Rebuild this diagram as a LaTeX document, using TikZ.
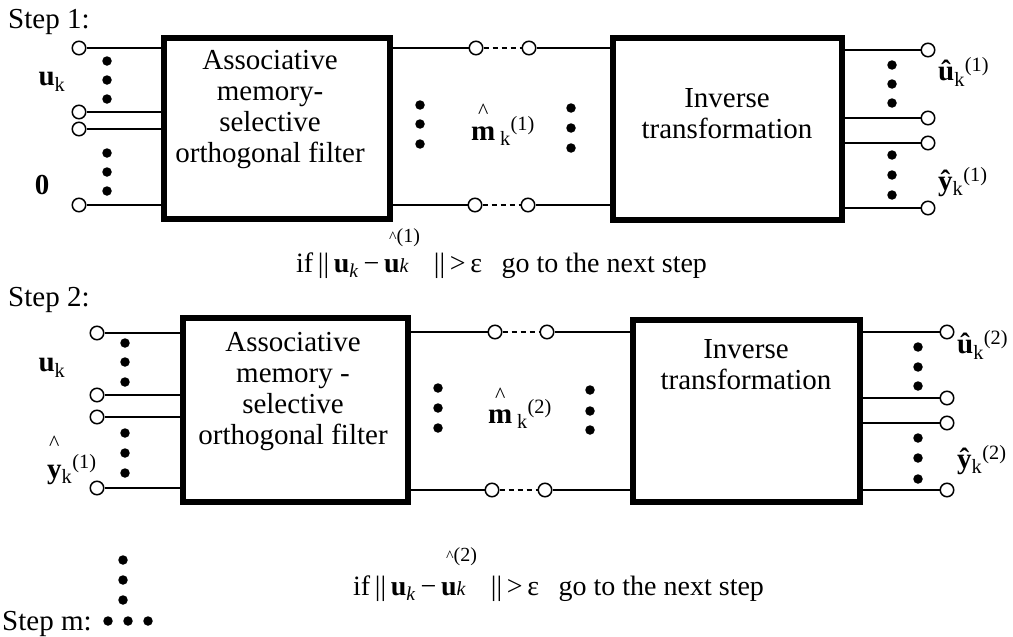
\documentclass[tikz,border=0pt]{standalone}
\usepackage{fontspec}
\setmainfont{Liberation Serif}
% caret set above the next letter: #1 shift right, #2 raise
\newcommand\hatover[2]{\makebox[0pt][l]{\hspace{#1}\raisebox{#2}{\mdseries\fontsize{22}{22}\selectfont\textasciicircum}}}
\begin{document}
\begin{tikzpicture}[x=1pt,y=-1pt,
  wire/.style={line width=1.7pt},
  gap/.style={line width=1.7pt, dash pattern=on 5pt off 4pt},
  blk/.style={draw, line width=5.5pt, inner sep=0pt, outer sep=0pt},
  term/.style={circle, draw, fill=white, line width=1.5pt, minimum size=13.5pt, inner sep=0pt},
  bigdot/.style={circle, fill=black, minimum size=9.5pt, inner sep=0pt},
  lbl/.style={inner sep=0pt, font=\fontsize{29}{31}\selectfont},
  cond/.style={inner sep=0pt, font=\fontsize{28}{30}\selectfont},
]
\useasboundingbox (0,0) rectangle (1013,637);

% ---------------- Step 1 ----------------
\node[lbl, anchor=base west] (s1) at (8,28) {Step 1:};

\node[blk, minimum width=226pt, minimum height=181pt] (A1) at (277,128.5) {};
\node[blk, minimum width=229pt, minimum height=182pt] (B1) at (727.5,129) {};

\node[lbl, align=center] (A1t) at (270,110) {Associative\\memory-\\selective\\orthogonal filter};
\node[lbl, align=center] (B1t) at (727,114) {Inverse\\transformation};

% inputs
\foreach \y [count=\i] in {48,112,129,205} {
  \node[term] (L1\i) at (79,\y) {};
  \draw[wire] (L1\i) -- (L1\i -| A1.west);
}
\foreach \y [count=\i] in {61,80,99,153,172,191}
  \node[bigdot] (dL1\i) at (107,\y) {};
\node[lbl] (u1) at (52,82) {\textbf{u}\textsubscript{k}};
\node[lbl] (z1) at (42,185) {\textbf{0}};

% link between the blocks
\node[term] (M1a) at (476,48) {};
\node[term] (M1b) at (529,48) {};
\node[term] (M1c) at (475,205) {};
\node[term] (M1d) at (528,205) {};
\draw[wire] (A1.east |- M1a) -- (M1a);
\draw[gap] (M1a) -- (M1b);
\draw[wire] (M1b) -- (M1b -| B1.west);
\draw[wire] (A1.east |- M1c) -- (M1c);
\draw[gap] (M1c) -- (M1d);
\draw[wire] (M1d) -- (M1d -| B1.west);
\foreach \y [count=\i] in {105,124,144}
  \node[bigdot] (dM1\i) at (420,\y) {};
\foreach \y [count=\i] in {108,128,148}
  \node[bigdot] (dN1\i) at (571,\y) {};
\node[lbl, anchor=base] (m1) at (503,140) {\hatover{7pt}{22pt}\textbf{m}\,\textsubscript{k}\textsuperscript{(1)}};

% outputs
\foreach \y [count=\i] in {50,118,143,208} {
  \node[term] (R1\i) at (928,\y) {};
  \draw[wire] (B1.east |- R1\i) -- (R1\i);
}
\foreach \y [count=\i] in {65,84,103,155,175,195}
  \node[bigdot] (dR1\i) at (892,\y) {};
\node[lbl, anchor=west] (ou1) at (938,72) {\textbf{û}\textsubscript{k}\textsuperscript{(1)}};
\node[lbl, anchor=west] (oy1) at (938,182) {\textbf{ŷ}\textsubscript{k}\textsuperscript{(1)}};

% stopping test
\node[cond, anchor=west] (c1) at (296,266) {if\,||\,\textbf{u}\textsubscript{\textit{k}}\,−\,\textbf{u}{\fontsize{20}{20}\selectfont\textit{k}}\hspace{0.9em}||\,>\,ε\hspace{0.45em} go to the next step};
\node[inner sep=0pt, anchor=west] (c1h) at (389,238) {{\fontsize{16}{16}\selectfont\textasciicircum}{\fontsize{20}{20}\selectfont(1)}};

% ---------------- Step 2 ----------------
\node[lbl, anchor=base west] (s2) at (8,306) {Step 2:};

\node[blk, minimum width=225pt, minimum height=184pt] (A2) at (295.5,410) {};
\node[blk, minimum width=227pt, minimum height=182pt] (B2) at (746.5,411) {};

\node[lbl, align=center] (A2t) at (293,392) {Associative\\memory -\\selective\\orthogonal filter};
\node[lbl, align=center] (B2t) at (746,365) {Inverse\\transformation};

\foreach \y [count=\i] in {333,395,417,488} {
  \node[term] (L2\i) at (97,\y) {};
  \draw[wire] (L2\i) -- (L2\i -| A2.west);
}
\foreach \y [count=\i] in {343,362,382,433,453,473}
  \node[bigdot] (dL2\i) at (125,\y) {};
\node[lbl] (u2) at (52,368) {\textbf{u}\textsubscript{k}};
\node[lbl, anchor=base west] (y2) at (47,478) {\hatover{2pt}{28pt}\textbf{y}\textsubscript{k}\textsuperscript{(1)}};

\node[term] (M2a) at (495,332) {};
\node[term] (M2b) at (547,332) {};
\node[term] (M2c) at (492,490) {};
\node[term] (M2d) at (545,490) {};
\draw[wire] (A2.east |- M2a) -- (M2a);
\draw[gap] (M2a) -- (M2b);
\draw[wire] (M2b) -- (M2b -| B2.west);
\draw[wire] (A2.east |- M2c) -- (M2c);
\draw[gap] (M2c) -- (M2d);
\draw[wire] (M2d) -- (M2d -| B2.west);
\foreach \y [count=\i] in {388,408,428}
  \node[bigdot] (dM2\i) at (438,\y) {};
\foreach \y [count=\i] in {390,411,430}
  \node[bigdot] (dN2\i) at (590,\y) {};
\node[lbl, anchor=base] (m2) at (520,423) {\hatover{7pt}{21pt}\textbf{m}\,\textsubscript{k}\textsuperscript{(2)}};

\foreach \y [count=\i] in {332,398,423,490} {
  \node[term] (R2\i) at (947,\y) {};
  \draw[wire] (B2.east |- R2\i) -- (R2\i);
}
\foreach \y [count=\i] in {347,367,386,438,458,479}
  \node[bigdot] (dR2\i) at (918,\y) {};
\node[lbl, anchor=west] (ou2) at (957,345) {\textbf{û}\textsubscript{k}\textsuperscript{(2)}};
\node[lbl, anchor=west] (oy2) at (957,460) {\textbf{ŷ}\textsubscript{k}\textsuperscript{(2)}};

\node[cond, anchor=west] (c2) at (353,589) {if\,||\,\textbf{u}\textsubscript{\textit{k}}\,−\,\textbf{u}{\fontsize{20}{20}\selectfont\textit{k}}\hspace{0.9em}||\,>\,ε\hspace{0.45em} go to the next step};
\node[inner sep=0pt, anchor=west] (c2h) at (446,557) {{\fontsize{16}{16}\selectfont\textasciicircum}{\fontsize{20}{20}\selectfont(2)}};

% ---------------- Step m ----------------
\foreach \y [count=\i] in {560,580,600}
  \node[bigdot] (dV\i) at (123,\y) {};
\node[lbl, anchor=base west] (sm) at (2,630) {Step m:};
\foreach \x [count=\i] in {108,128,148}
  \node[bigdot] (dH\i) at (\x,621) {};
\end{tikzpicture}
\end{document}
